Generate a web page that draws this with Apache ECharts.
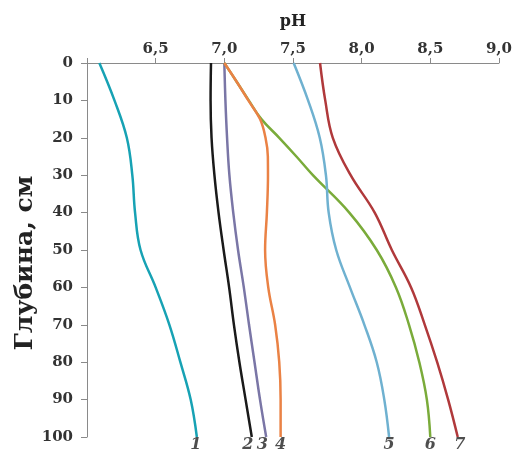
<!DOCTYPE html>
<html><head><meta charset="utf-8">
<script src="https://cdn.jsdelivr.net/npm/echarts@6/dist/echarts.min.js"></script>
<style>html,body{margin:0;padding:0;background:#fff}#c{width:515px;height:457px}</style>
</head><body><div id="c"></div>
<script>
// Depths (cm)
var depthsA = [0,10,20,30,40,50,60,70,80,90,100];
var depthsB = [0,5,10,15,20,25,30,40,50,60,70,80,90,100];
// pH values per profile
var ph1 = [6.09,6.20,6.29,6.33,6.35,6.39,6.50,6.60,6.68,6.755,6.80];
var ph2 = [6.903,6.90,6.907,6.928,6.958,6.995,7.035,7.07,7.11,7.155,7.20];
var ph3 = [7.00,7.008,7.02,7.037,7.065,7.10,7.142,7.18,7.22,7.26,7.305];
var ph4 = [7.00,7.09,7.175,7.26,7.30,7.317,7.318,7.31,7.297,7.32,7.37,7.40,7.41,7.41];
var ph5 = [7.505,7.61,7.695,7.74,7.76,7.815,7.915,8.02,8.11,8.165,8.20];
var ph6 = [7.00,7.09,7.178,7.27,7.40,7.525,7.645,7.91,8.11,8.25,8.345,8.42,8.475,8.50];
var ph7 = [7.697,7.735,7.79,7.92,8.095,8.22,8.36,8.46,8.55,8.63,8.70];
var curveLabels = ['1','2','3','4','5','6','7'];
var xTicks = ['6,5','7,0','7,5','8,0','8,5','9,0'];
var yTicks = ['0','10','20','30','40','50','60','70','80','90','100'];
var yTitle = 'Глубина, см';
var xTitle = 'pH';

var colors = ['#17a2b4','#1a1a1a','#7a76a6','#ea8245','#6fb1d0','#7aab3a','#b0393b'];
var profiles = [[ph1,depthsA],[ph2,depthsA],[ph3,depthsA],[ph4,depthsB],[ph5,depthsA],[ph6,depthsB],[ph7,depthsA]];
var labelOffsets = [[-1,-2],[-4,-2],[-4,-2],[0,-2],[0,-2],[0,-2],[2,-2]];
var order = [0,1,2,5,3,4,6];
var serif = 'DejaVu Serif';
var series = order.map(function(i){
  var p = profiles[i];
  var data = p[0].map(function(v,k){ return [v, p[1][k]]; });
  return {type:'line', data:data, smooth:0.4, showSymbol:false, symbol:'none',
    lineStyle:{color:colors[i], width:2.5}, itemStyle:{color:colors[i]}, z: 2};
});
series.push({type:'scatter', symbolSize:1, clip:false, itemStyle:{color:'rgba(255,255,255,0)'}, z:3,
  label:{show:true, position:'bottom', distance:1, fontFamily: serif, fontStyle:'italic', fontWeight:'bold', fontSize:16, color:'#222',
    formatter:function(p){ return curveLabels[p.dataIndex]; }},
  data: profiles.map(function(p,i){
    var n = p[0].length-1;
    return {value:[p[0][n], p[1][n]], label:{offset:labelOffsets[i]}};
  })
});

var chart = echarts.init(document.getElementById('c'), null, {renderer:'canvas'});
chart.setOption({
  animation:false,
  grid:{left:87, right:12, top:63, bottom:20, containLabel:false},
  graphic:[{type:'text', x:25, y:263, rotation:Math.PI/2,
    style:{text:yTitle, fontFamily:serif, fontWeight:'bold', fontSize:25, fill:'#222', align:'center', verticalAlign:'middle'}}],
  xAxis:{type:'value', position:'top', min:6, max:9, interval:0.5,
    name:xTitle, nameLocation:'middle', nameGap:33,
    nameTextStyle:{fontFamily:serif, fontWeight:'bold', fontSize:16, color:'#222'},
    axisLine:{lineStyle:{color:'#8a8a8a', width:1}},
    axisTick:{show:true, inside:false, length:5, lineStyle:{color:'#8a8a8a'}},
    axisLabel:{margin:6, fontFamily:serif, fontWeight:'bold', fontSize:15, color:'#333',
      formatter:function(v){ var i=Math.round((v-6.5)/0.5); return i>=0 && i<xTicks.length ? xTicks[i] : ''; }},
    splitLine:{show:false}},
  yAxis:{type:'value', inverse:true, min:0, max:100, interval:10,
    axisLine:{show:true, lineStyle:{color:'#8a8a8a', width:1}},
    axisTick:{show:true, inside:false, length:6, lineStyle:{color:'#8a8a8a'}},
    axisLabel:{margin:14, fontFamily:serif, fontWeight:'bold', fontSize:15, color:'#333',
      formatter:function(v){ return yTicks[Math.round(v/10)]; }},
    splitLine:{show:false}},
  series:series
});
</script></body></html>
